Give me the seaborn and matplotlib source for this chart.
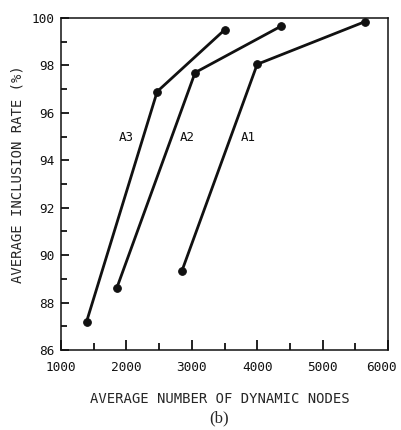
import matplotlib
matplotlib.use("Agg")
import matplotlib.pyplot as plt
from matplotlib.ticker import MultipleLocator, FuncFormatter
import seaborn as sns
import pandas as pd

# Curves: average dynamic nodes vs. average inclusion rate
series = ["A1", "A2", "A3"]
a1_nodes = [2850, 4000, 5650]
a1_rate = [89.35, 98.05, 99.85]
a2_nodes = [1850, 3050, 4360]
a2_rate = [88.6, 97.7, 99.65]
a3_nodes = [1390, 2470, 3500]
a3_rate = [87.2, 96.9, 99.5]

# Label positions for each curve
label_x = [3860, 2930, 2000]
label_y = [94.95, 94.95, 94.95]

x_min, x_max = 1000, 6000

df = pd.concat([
    pd.DataFrame({"nodes": a1_nodes, "rate": a1_rate, "curve": "A1"}),
    pd.DataFrame({"nodes": a2_nodes, "rate": a2_rate, "curve": "A2"}),
    pd.DataFrame({"nodes": a3_nodes, "rate": a3_rate, "curve": "A3"}),
])

sns.set_style("ticks")
plt.rcParams["font.family"] = ["DejaVu Sans Mono"]

fig = plt.figure(figsize=(4.02, 4.30), dpi=100)
ax = fig.add_axes([0.152, 0.186, 0.813, 0.772])

sns.lineplot(data=df, x="nodes", y="rate", units="curve", estimator=None,
             color="#111111", linewidth=2.0, marker="o", markersize=5.5,
             markeredgecolor="#111111", ax=ax, legend=False)

for name, lx, ly in zip(series, label_x, label_y):
    ax.text(lx, ly, name, fontsize=9, ha="center", va="center", color="#111111")

ax.set_xlim(x_min, x_max)
ax.set_ylim(86, 100)
ax.xaxis.set_major_locator(MultipleLocator(1000))
ax.xaxis.set_minor_locator(MultipleLocator(500))
ax.yaxis.set_major_locator(MultipleLocator(2))
ax.yaxis.set_minor_locator(MultipleLocator(1))
# the right-most x label is drawn separately, pulled slightly inward
ax.xaxis.set_major_formatter(
    FuncFormatter(lambda v, p: "" if v >= x_max else f"{v:.0f}"))
ax.tick_params(which="both", direction="in", color="#111111", width=1.3,
               labelsize=9.2, labelcolor="#111111")
ax.tick_params(axis="x", which="major", length=7.5, pad=8)
ax.tick_params(axis="x", which="minor", length=5)
ax.tick_params(axis="y", which="major", length=6, pad=5)
ax.tick_params(axis="y", which="minor", length=4.5)
for s in ax.spines.values():
    s.set_color("#111111")
    s.set_linewidth(1.1)

ax.annotate(f"{x_max}", xy=(x_max, 86), xycoords="data",
            xytext=(-4.5, -8), textcoords="offset points",
            ha="center", va="top", fontsize=9.2, color="#111111",
            annotation_clip=False)

ax.set_xlabel("AVERAGE NUMBER OF DYNAMIC NODES", fontsize=10, labelpad=12)
ax.xaxis.set_label_coords(0.487, -0.125)
ax.set_ylabel("AVERAGE INCLUSION RATE (%)", fontsize=10, labelpad=7)
ax.yaxis.set_label_coords(-0.113, 0.53)

fig.text(0.545, 0.008, "(b)", fontsize=12, ha="center", va="bottom",
         family=["Liberation Serif"])

fig.savefig("out.png", dpi=100, facecolor="white")
